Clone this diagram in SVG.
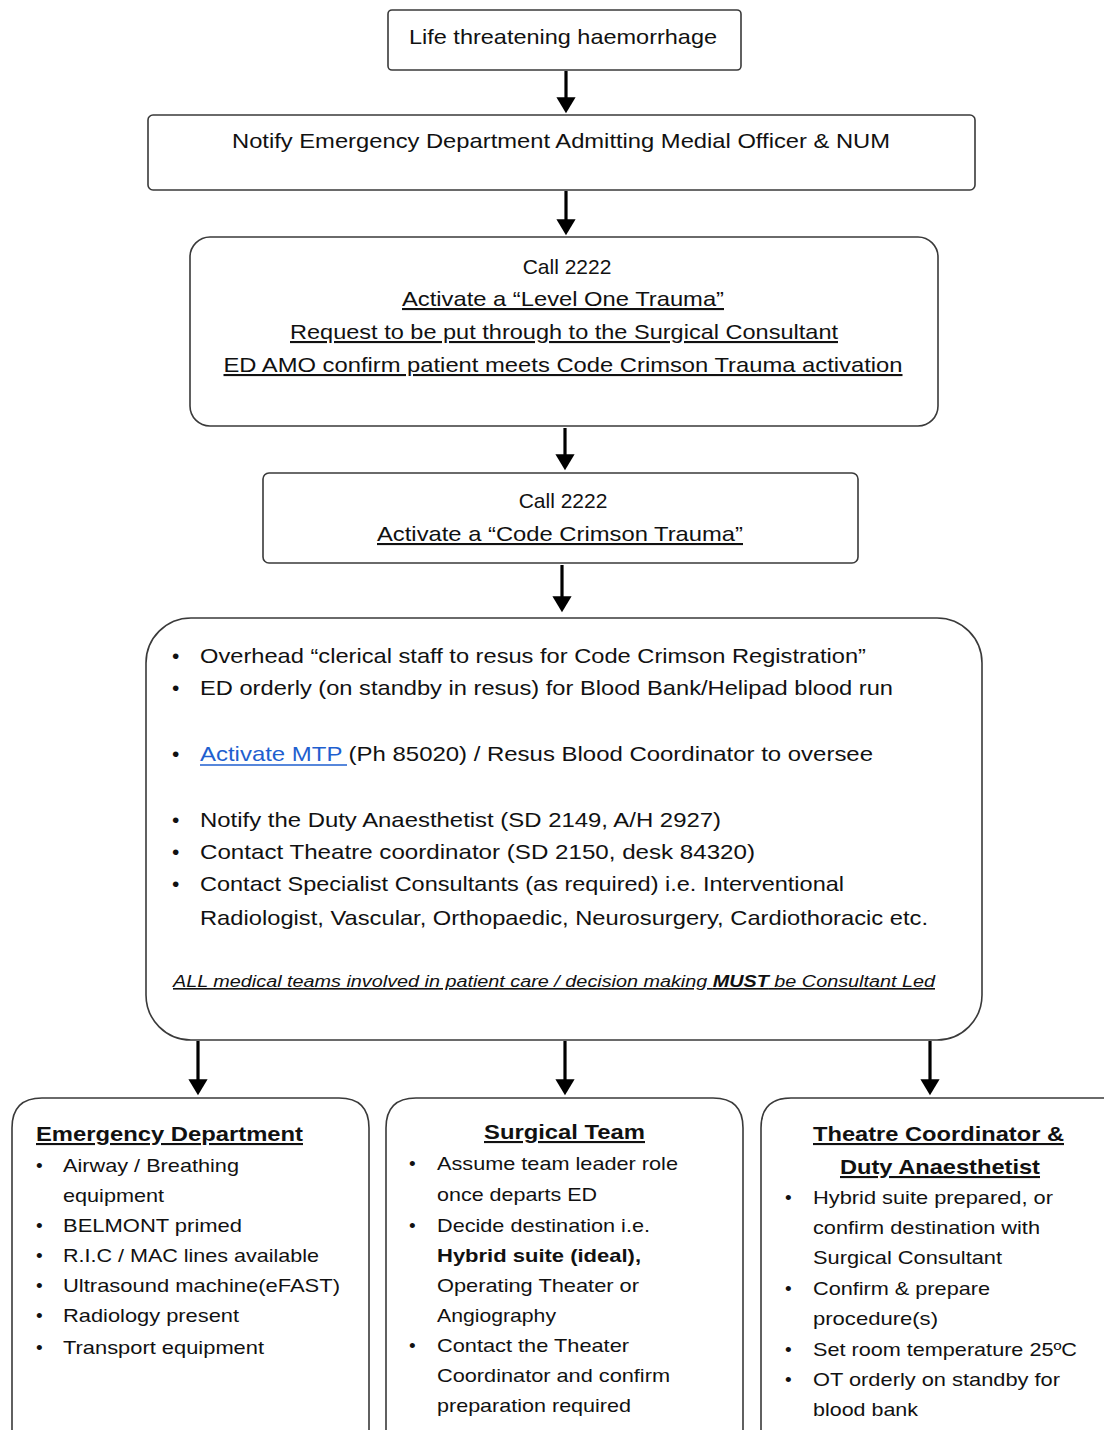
<svg xmlns="http://www.w3.org/2000/svg" width="1104" height="1430" viewBox="0 0 1104 1430">
<style>
.box{fill:#fff;stroke:#3a3a3a;stroke-width:1.6}
.t{font-family:"Liberation Sans",Arial,sans-serif;font-size:21px;fill:#111}
.c{text-anchor:middle}
.u{text-decoration:underline}
.s{font-family:"Liberation Sans",Arial,sans-serif;font-size:19px;fill:#111}
.h{font-family:"Liberation Sans",Arial,sans-serif;font-size:21px;font-weight:bold;fill:#111;text-decoration:underline}
.b{font-weight:bold}
.conn{stroke:#000;stroke-width:3.2;fill:none;marker-end:url(#ah)}
</style>
<defs>
<marker id="ah" markerWidth="6" markerHeight="6" refX="4" refY="3" orient="auto" markerUnits="strokeWidth">
<path d="M0,0 L5,3 L0,6 z" fill="#000"/>
</marker>
</defs>
<rect width="1104" height="1430" fill="#fff"/>

<g id="connectors">
<line class="conn" x1="566" y1="71" x2="566" y2="110"/>
<line class="conn" x1="566" y1="191" x2="566" y2="232"/>
<line class="conn" x1="565" y1="428" x2="565" y2="467"/>
<line class="conn" x1="562" y1="565" x2="562" y2="609"/>
<line class="conn" x1="198" y1="1041" x2="198" y2="1092"/>
<line class="conn" x1="565" y1="1041" x2="565" y2="1092"/>
<line class="conn" x1="930" y1="1041" x2="930" y2="1092"/>
</g>

<g id="n1">
<rect class="box" x="388" y="10" width="353" height="60" rx="4"/>
<text class="t c" x="563" y="44" textLength="308" lengthAdjust="spacingAndGlyphs">Life threatening  haemorrhage</text>
</g>

<g id="n2">
<rect class="box" x="148" y="115" width="827" height="75" rx="5"/>
<text class="t c" x="561" y="148" textLength="658" lengthAdjust="spacingAndGlyphs">Notify Emergency Department Admitting Medial Officer &amp; NUM</text>
</g>

<g id="n3">
<rect class="box" x="190" y="237" width="748" height="189" rx="20"/>
<text class="t c" x="567" y="274">Call 2222</text>
<text class="t c u" x="563" y="306" textLength="322" lengthAdjust="spacingAndGlyphs">Activate a “Level One  Trauma”</text>
<text class="t c u" x="564" y="339" textLength="548" lengthAdjust="spacingAndGlyphs">Request to be put through  to the Surgical Consultant</text>
<text class="t c u" x="563" y="372" textLength="679" lengthAdjust="spacingAndGlyphs">ED AMO confirm  patient meets Code Crimson Trauma  activation</text>
</g>

<g id="n4">
<rect class="box" x="263" y="473" width="595" height="90" rx="6"/>
<text class="t c" x="563" y="508">Call 2222</text>
<text class="t c u" x="560" y="541" textLength="366" lengthAdjust="spacingAndGlyphs">Activate a “Code Crimson Trauma”</text>
</g>

<g id="n5">
<rect class="box" x="146" y="618" width="836" height="422" rx="45"/>
<text class="t" x="172" y="663">•</text>
<text class="t" x="200" y="663" textLength="666" lengthAdjust="spacingAndGlyphs">Overhead “clerical staff to resus for Code Crimson Registration”</text>
<text class="t" x="172" y="695">•</text>
<text class="t" x="200" y="695" textLength="693" lengthAdjust="spacingAndGlyphs">ED orderly (on standby  in resus) for Blood Bank/Helipad blood run</text>
<text class="t" x="172" y="761">•</text>
<text class="t" x="200" y="761" textLength="673" lengthAdjust="spacingAndGlyphs"><tspan fill="#1f5fcf">Activate MTP </tspan>(Ph 85020)  / Resus Blood Coordinator to oversee</text>
<line x1="200" y1="765" x2="347" y2="765" stroke="#1f5fcf" stroke-width="1.4"/>
<text class="t" x="172" y="827">•</text>
<text class="t" x="200" y="827" textLength="521" lengthAdjust="spacingAndGlyphs">Notify the  Duty Anaesthetist  (SD 2149, A/H 2927)</text>
<text class="t" x="172" y="859">•</text>
<text class="t" x="200" y="859" textLength="555" lengthAdjust="spacingAndGlyphs">Contact Theatre  coordinator  (SD 2150, desk 84320)</text>
<text class="t" x="172" y="891">•</text>
<text class="t" x="200" y="891" textLength="644" lengthAdjust="spacingAndGlyphs">Contact Specialist Consultants  (as required) i.e. Interventional</text>
<text class="t" x="200" y="925" textLength="728" lengthAdjust="spacingAndGlyphs">Radiologist, Vascular,  Orthopaedic, Neurosurgery,  Cardiothoracic etc.</text>
<text class="t u" x="173" y="987" style="font-size:16px;font-style:italic" textLength="762" lengthAdjust="spacingAndGlyphs">ALL medical  teams involved  in patient care / decision making <tspan class="b">MUST</tspan> be Consultant  Led</text>
</g>

<g id="n6">
<path class="box" d="M12,1432 L12,1128 Q12,1098 42,1098 L339,1098 Q369,1098 369,1128 L369,1432"/>
<text class="h" x="36" y="1141" textLength="267" lengthAdjust="spacingAndGlyphs">Emergency Department</text>
<g class="s">
<text x="36" y="1172">•</text><text x="63" y="1172" textLength="176" lengthAdjust="spacingAndGlyphs">Airway / Breathing</text>
<text x="63" y="1202" textLength="101" lengthAdjust="spacingAndGlyphs">equipment</text>
<text x="36" y="1232">•</text><text x="63" y="1232" textLength="179" lengthAdjust="spacingAndGlyphs">BELMONT primed</text>
<text x="36" y="1262">•</text><text x="63" y="1262" textLength="256" lengthAdjust="spacingAndGlyphs">R.I.C / MAC  lines available</text>
<text x="36" y="1292">•</text><text x="63" y="1292" textLength="277" lengthAdjust="spacingAndGlyphs">Ultrasound machine(eFAST)</text>
<text x="36" y="1322">•</text><text x="63" y="1322" textLength="176" lengthAdjust="spacingAndGlyphs">Radiology present</text>
<text x="36" y="1354">•</text><text x="63" y="1354" textLength="201" lengthAdjust="spacingAndGlyphs">Transport equipment</text>
</g>
</g>

<g id="n7">
<path class="box" d="M386,1432 L386,1128 Q386,1098 416,1098 L713,1098 Q743,1098 743,1128 L743,1432"/>
<text class="h" x="484" y="1139" textLength="161" lengthAdjust="spacingAndGlyphs">Surgical Team</text>
<g class="s">
<text x="409" y="1170">•</text><text x="437" y="1170" textLength="241" lengthAdjust="spacingAndGlyphs">Assume team leader role</text>
<text x="437" y="1201" textLength="160" lengthAdjust="spacingAndGlyphs">once departs ED</text>
<text x="409" y="1232">•</text><text x="437" y="1232" textLength="213" lengthAdjust="spacingAndGlyphs">Decide destination i.e.</text>
<text x="437" y="1262" class="b" textLength="204" lengthAdjust="spacingAndGlyphs">Hybrid suite (ideal),</text>
<text x="437" y="1292" textLength="202" lengthAdjust="spacingAndGlyphs">Operating Theater or</text>
<text x="437" y="1322" textLength="119" lengthAdjust="spacingAndGlyphs">Angiography</text>
<text x="409" y="1352">•</text><text x="437" y="1352" textLength="192" lengthAdjust="spacingAndGlyphs">Contact the Theater</text>
<text x="437" y="1382" textLength="233" lengthAdjust="spacingAndGlyphs">Coordinator and confirm</text>
<text x="437" y="1412" textLength="194" lengthAdjust="spacingAndGlyphs">preparation required</text>
</g>
</g>

<g id="n8">
<path class="box" d="M761,1432 L761,1128 Q761,1098 791,1098 L1104,1098"/>
<text class="h" x="813" y="1141" textLength="251" lengthAdjust="spacingAndGlyphs">Theatre Coordinator &amp;</text>
<text class="h" x="840" y="1174" textLength="200" lengthAdjust="spacingAndGlyphs">Duty Anaesthetist</text>
<g class="s">
<text x="785" y="1204">•</text><text x="813" y="1204" textLength="240" lengthAdjust="spacingAndGlyphs">Hybrid suite prepared, or</text>
<text x="813" y="1234" textLength="227" lengthAdjust="spacingAndGlyphs">confirm destination with</text>
<text x="813" y="1264" textLength="189" lengthAdjust="spacingAndGlyphs">Surgical Consultant</text>
<text x="785" y="1295">•</text><text x="813" y="1295" textLength="177" lengthAdjust="spacingAndGlyphs">Confirm &amp; prepare</text>
<text x="813" y="1325" textLength="125" lengthAdjust="spacingAndGlyphs">procedure(s)</text>
<text x="785" y="1356">•</text><text x="813" y="1356" textLength="264" lengthAdjust="spacingAndGlyphs">Set room temperature 25ºC</text>
<text x="785" y="1386">•</text><text x="813" y="1386" textLength="247" lengthAdjust="spacingAndGlyphs">OT orderly on standby for</text>
<text x="813" y="1416" textLength="105" lengthAdjust="spacingAndGlyphs">blood bank</text>
</g>
</g>
</svg>
